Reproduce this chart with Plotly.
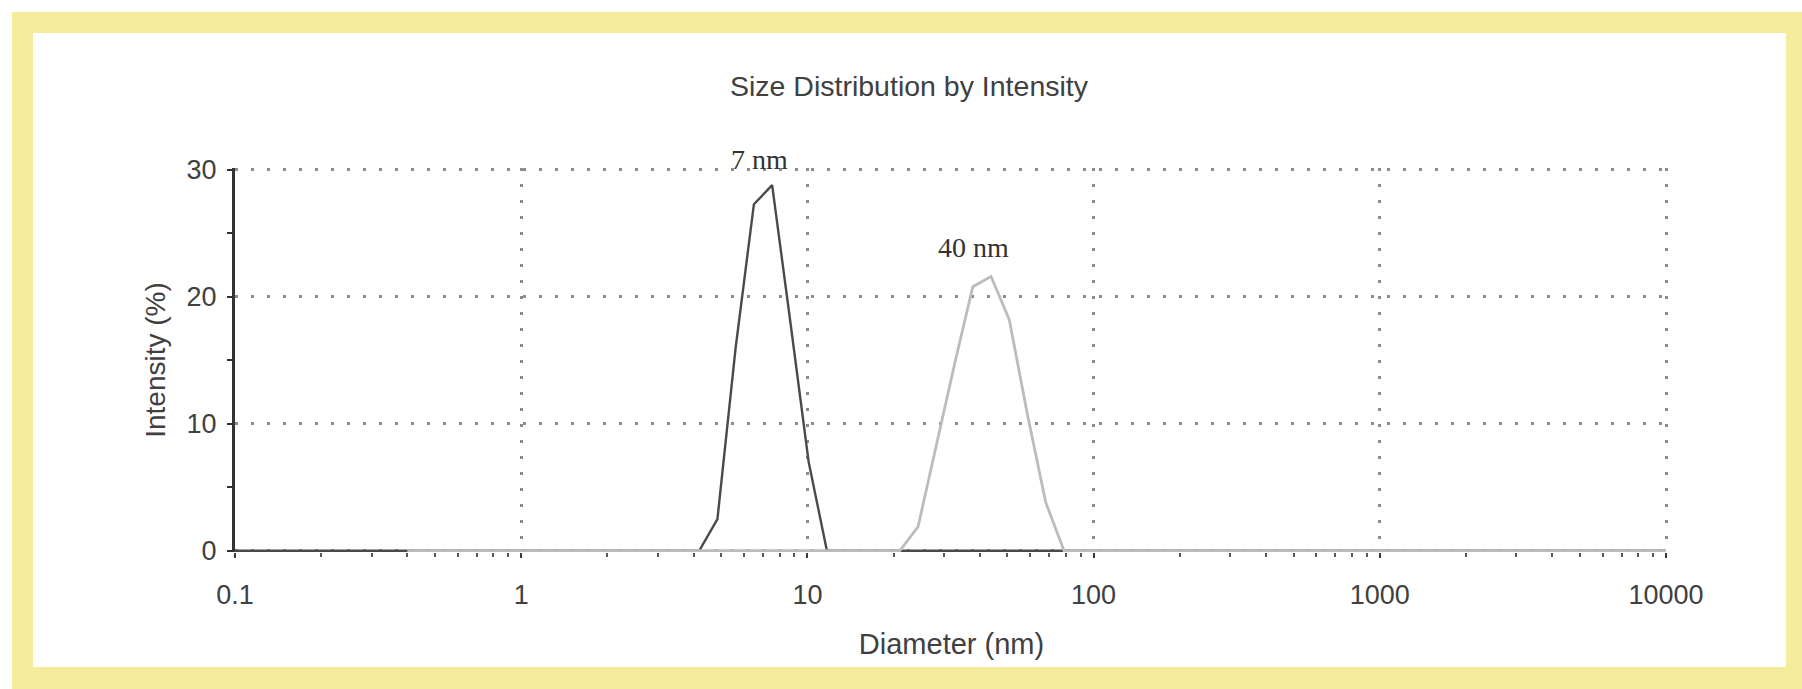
import plotly.graph_objects as go

# ---- data ----
diam_7nm = [0.1, 0.4, 4.187, 4.849, 5.615, 6.503, 7.531, 8.721, 10.10, 11.70, 10000]
int_7nm = [0, 0, 0, 2.5, 16.0, 27.3, 28.8, 18.0, 7.0, 0, 0]

diam_40nm = [0.4, 21.04, 24.36, 28.21, 32.67, 37.84, 43.82, 50.75, 58.77, 68.06, 78.82, 10000]
int_40nm = [0, 0, 1.9, 8.4, 14.7, 20.8, 21.6, 18.2, 10.7, 3.8, 0, 0]

x_tickvals = [0.1, 1, 10, 100, 1000, 10000]
x_ticktext = ["0.1", "1", "10", "100", "1000", "10000"]
y_tickvals = [0, 10, 20, 30]

peak_labels = ["7 nm", "40 nm"]
peak_label_x = [6.8, 38.1]
peak_label_y = [30.8, 23.9]

# ---- figure ----
W, H = 1802, 689
L, R, T, B = 235, 134, 168, 137
pw, ph = W - L - R, H - T - B
Y_RANGE = [-0.1, 30.15]
X_RANGE = [-1, 4.007]

def px_x(p):
    return (p - L) / pw

def px_y(p):
    return (H - B - p) / ph

fig = go.Figure()
fig.add_trace(go.Scatter(x=diam_7nm, y=int_7nm, mode="lines",
                         line=dict(color="#4a4a4a", width=2.4), name="Record 1"))
fig.add_trace(go.Scatter(x=diam_40nm, y=int_40nm, mode="lines",
                         line=dict(color="#bcbcbc", width=2.8), name="Record 2"))

for txt, xv, yv in zip(peak_labels, peak_label_x, peak_label_y):
    fig.add_annotation(x=xv, y=(yv - Y_RANGE[0]) / (Y_RANGE[1] - Y_RANGE[0]),
                       xref="x", yref="paper", text=txt,
                       showarrow=False, xanchor="center", yanchor="middle",
                       font=dict(family="Liberation Serif, Times New Roman, serif",
                                 size=28, color="#333333"))
# annotation x on a log axis is given in log10 units
for ann in fig.layout.annotations:
    import math
    ann.x = math.log10(ann.x)

# yellow frame (outer yellow, inner white)
fig.add_shape(type="rect", xref="paper", yref="paper",
              x0=px_x(12), x1=px_x(1815), y0=px_y(700), y1=px_y(12),
              line=dict(width=0), fillcolor="#f5ec9b", layer="below")
fig.add_shape(type="rect", xref="paper", yref="paper",
              x0=px_x(33), x1=px_x(1786), y0=px_y(667), y1=px_y(33),
              line=dict(width=0), fillcolor="white", layer="below")

font_main = "Liberation Sans, Arial, sans-serif"
txt_col = "#404040"
grid_col = "#8c8c8c"
grid_dash = "3px,13px"
fig.update_layout(
    width=W, height=H,
    margin=dict(l=L, r=R, t=T, b=B, autoexpand=False),
    paper_bgcolor="white", plot_bgcolor="rgba(0,0,0,0)",
    showlegend=False,
    font=dict(family=font_main, size=28, color=txt_col),
    title=dict(text="Size Distribution by Intensity", x=909 / W, xref="container",
               xanchor="center", y=1 - 86 / H, yref="container", yanchor="middle",
               font=dict(family=font_main, size=28.5, color=txt_col)),
    xaxis=dict(
        type="log", range=X_RANGE,
        tickmode="array", tickvals=x_tickvals, ticktext=x_ticktext,
        showline=False,
        ticks="outside", ticklen=5, tickwidth=2, tickcolor="#3a3a3a",
        ticklabelstandoff=14,
        tickfont=dict(size=27, color=txt_col),
        minor=dict(ticks="outside", ticklen=4, tickwidth=1.5, tickcolor="#555555",
                   dtick="D1", showgrid=False),
        showgrid=True, gridcolor=grid_col, gridwidth=2.5, griddash=grid_dash,
        zeroline=False, layer="below traces",
        title=dict(text="Diameter (nm)", standoff=24,
                   font=dict(size=29, color=txt_col)),
    ),
    yaxis=dict(
        range=Y_RANGE,
        tickmode="array", tickvals=y_tickvals,
        showline=True, linecolor="#333333", linewidth=3,
        ticks="outside", ticklen=5, tickwidth=2, tickcolor="#333333",
        ticklabelstandoff=5,
        tickfont=dict(size=27, color=txt_col),
        minor=dict(ticks="outside", ticklen=5, tickwidth=2, tickcolor="#333333",
                   dtick=5, showgrid=False),
        showgrid=True, gridcolor=grid_col, gridwidth=2.5, griddash=grid_dash,
        zeroline=False, layer="below traces",
        title=dict(text="Intensity (%)", standoff=13,
                   font=dict(size=28, color=txt_col)),
    ),
)

fig.write_html("out.html", config={"displayModeBar": False},
               post_script="document.body.style.margin='0px';")
